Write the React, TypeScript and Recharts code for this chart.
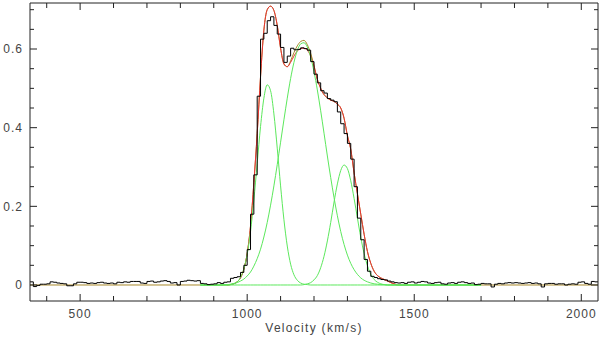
import React from 'react';
import { LineChart, Line, XAxis, YAxis } from 'recharts';

// observed spectrum: one value per 10 km/s channel, left edges 350 ... 2040
const CHANNEL_START = 350;
const CHANNEL_WIDTH = 10;
const flux = [
  0.008, -0.004, -0.001, 0.002, 0.002, 0.003, 0.008, 0.007, 0.005, 0.004,
  0.003, -0.002, -0.002, 0.003, 0.007, 0.007, 0.006, 0.004, 0.005, 0.004,
  0.006, 0.007, 0.005, 0.004, 0.005, 0.003, 0.007, 0.006, 0.008, 0.007,
  0.009, 0.009, 0.009, 0.005, 0.004, 0.009, 0.010, 0.007, 0.008, 0.010,
  0.011, 0.009, 0.005, 0.006, 0.000, 0.009, 0.010, 0.012, 0.011, 0.010,
  0.011, 0.004, 0.003, 0.001, 0.002, 0.003, 0.006, 0.004, 0.007, 0.008,
  0.017, 0.019, 0.021, 0.032, 0.050, 0.090, 0.180, 0.280, 0.480, 0.625,
  0.640, 0.672, 0.682, 0.660, 0.638, 0.604, 0.566, 0.582, 0.602, 0.598,
  0.599, 0.603, 0.601, 0.597, 0.568, 0.536, 0.514, 0.494, 0.488, 0.474,
  0.470, 0.466, 0.440, 0.410, 0.385, 0.360, 0.320, 0.250, 0.170, 0.115,
  0.065, 0.035, 0.022, 0.019, 0.016, 0.014, 0.013, 0.010, 0.008, 0.006,
  0.005, 0.006, 0.004, 0.007, 0.008, 0.005, 0.007, 0.009, 0.008, 0.005,
  0.004, 0.006, 0.007, 0.003, 0.002, 0.005, 0.006, 0.004, 0.007, 0.008,
  0.006, 0.004, 0.005, 0.001, 0.002, 0.004, 0.003, 0.003, -0.005, 0.002,
  0.004, 0.003, 0.005, 0.006, 0.005, 0.006, 0.005, 0.004, 0.005, 0.006,
  0.004, 0.005, 0.003, -0.005, 0.003, 0.004, 0.004, 0.002, 0.003, 0.003,
  0.000, 0.002, 0.003, 0.002, 0.007, 0.008, 0.004, 0.002, 0.009, 0.008,
];

// fitted curves, read at these velocities (km/s)
const fitVelocity = [
  900, 910, 920, 930, 940, 950, 960, 970, 980, 990,
  1000, 1010, 1020, 1030, 1040, 1050, 1060, 1070, 1080, 1090,
  1100, 1110, 1120, 1130, 1140, 1150, 1160, 1170, 1180, 1190,
  1200, 1210, 1220, 1230, 1240, 1250, 1260, 1270, 1280, 1290,
  1300, 1310, 1320, 1330, 1340, 1350, 1360, 1370, 1380, 1390,
  1400, 1410, 1420, 1430, 1440, 1450,
];
const redFit = [
  null, null, null, null, 0.000, 0.001, 0.003, 0.008, 0.018, 0.040,
  0.080, 0.150, 0.260, 0.385, 0.530, 0.648, 0.700, 0.709, 0.698, 0.660,
  0.602, 0.562, 0.555, 0.566, 0.582, 0.595, 0.601, 0.602, 0.597, 0.582,
  0.556, 0.523, 0.500, 0.484, 0.476, 0.470, 0.467, 0.460, 0.450, 0.424,
  0.380, 0.345, 0.285, 0.232, 0.180, 0.129, 0.085, 0.055, 0.035, 0.024,
  0.018, 0.014, 0.010, 0.006, 0.003, 0.000,
];
const oliveFit = [
  0, 0, 0, 0, 0.000, 0.001, 0.003, 0.008, 0.018, 0.040,
  0.080, 0.150, 0.260, 0.385, 0.530, 0.648, 0.700, 0.709, 0.698, 0.660,
  0.602, 0.562, 0.555, 0.570, 0.591, 0.608, 0.619, 0.622, 0.611, 0.589,
  0.558, 0.523, 0.500, 0.484, 0.476, 0.470, 0.467, 0.460, 0.450, 0.424,
  0.380, 0.345, 0.285, 0.232, 0.180, 0.129, 0.085, 0.055, 0.035, 0.024,
  0.018, 0.014, 0.010, 0.006, 0.003, 0.000,
];
const narrowComp = [
  0, 0, 0, 0, 0, 0.001, 0.003, 0.008, 0.019, 0.041,
  0.078, 0.136, 0.216, 0.309, 0.403, 0.475, 0.509, 0.494, 0.435, 0.348,
  0.252, 0.166, 0.099, 0.053, 0.026, 0.012, 0.005, 0.002, 0.001, 0,
  0, 0, 0, 0, 0, 0, 0, 0, 0, 0,
  0, 0, 0, 0, 0, 0, 0, 0, 0, 0,
  0, 0, 0, 0, 0, 0,
];
const broadComp = [
  0, 0, 0, 0.001, 0.001, 0.002, 0.004, 0.006, 0.010, 0.015,
  0.023, 0.033, 0.048, 0.067, 0.091, 0.122, 0.159, 0.203, 0.252, 0.306,
  0.363, 0.420, 0.475, 0.525, 0.566, 0.596, 0.613, 0.616, 0.605, 0.580,
  0.542, 0.496, 0.443, 0.386, 0.328, 0.273, 0.222, 0.176, 0.136, 0.103,
  0.076, 0.055, 0.039, 0.027, 0.018, 0.012, 0.008, 0.005, 0.003, 0.002,
  0.001, 0.001, 0, 0, 0, 0,
];
const redshiftedComp = [
  0, 0, 0, 0, 0, 0, 0, 0, 0, 0,
  0, 0, 0, 0, 0, 0, 0, 0, 0, 0,
  0, 0, 0, 0, 0, 0, 0, 0.001, 0.003, 0.006,
  0.013, 0.024, 0.044, 0.073, 0.112, 0.159, 0.211, 0.257, 0.291, 0.305,
  0.296, 0.265, 0.220, 0.170, 0.121, 0.080, 0.049, 0.027, 0.014, 0.007,
  0.003, 0.001, 0, 0, 0, 0,
];

const X_TICKS = [400, 500, 600, 700, 800, 900, 1000, 1100, 1200, 1300, 1400, 1500, 1600, 1700, 1800, 1900, 2000];
const Y_TICKS = [0, 0.05, 0.1, 0.15, 0.2, 0.25, 0.3, 0.35, 0.4, 0.45, 0.5, 0.55, 0.6, 0.65, 0.7];

// plot box in page pixels
const LEFT = 30;
const RIGHT = 598;
const TOP = 3;
const BOTTOM = 301;
const FRAME = '#222';
const labelFont = {
  fontFamily: '"Liberation Sans", Arial, sans-serif',
  fontSize: 12,
  fill: '#444',
  letterSpacing: 1,
};

const histData = flux.map((y, i) => ({ v: CHANNEL_START + i * CHANNEL_WIDTH, y }));
histData.push({ v: CHANNEL_START + flux.length * CHANNEL_WIDTH, y: flux[flux.length - 1] });

const toSeries = (vals: (number | null)[]) => fitVelocity.map((v, i) => ({ v, y: vals[i] }));
const redData = toSeries(redFit);
const oliveData = [{ v: 350, y: 0 }, ...toSeries(oliveFit), { v: 2050, y: 0 }];
const greenSeries = [narrowComp, broadComp, redshiftedComp].map((c) => [
  { v: 860, y: 0 },
  ...toSeries(c),
  { v: 1700, y: 0 },
]);

const isMajorX = (v: number) => v % 500 === 0;
const isMajorY = (v: number) => Math.abs(v * 5 - Math.round(v * 5)) < 1e-6;

const BottomTick = (props: any) => {
  const { x, payload } = props;
  const major = isMajorX(payload.value);
  return (
    <g>
      <line x1={x} x2={x} y1={BOTTOM} y2={BOTTOM - (major ? 7 : 5)} stroke={FRAME} />
      {major && (
        <text x={x} y={318} textAnchor="middle" {...labelFont}>
          {payload.value}
        </text>
      )}
    </g>
  );
};

const TopTick = (props: any) => {
  const { x, payload } = props;
  const major = isMajorX(payload.value);
  return <line x1={x} x2={x} y1={TOP} y2={TOP + (major ? 7 : 5)} stroke={FRAME} />;
};

const LeftTick = (props: any) => {
  const { y, payload } = props;
  const major = isMajorY(payload.value);
  return (
    <g>
      <line x1={LEFT} x2={LEFT + (major ? 7 : 4)} y1={y} y2={y} stroke={FRAME} />
      {major && (
        <text x={23} y={y + 4.3} textAnchor="end" {...labelFont}>
          {payload.value === 0 ? '0' : payload.value.toFixed(1)}
        </text>
      )}
    </g>
  );
};

const RightTick = (props: any) => {
  const { y, payload } = props;
  const major = isMajorY(payload.value);
  return <line x1={RIGHT} x2={RIGHT - (major ? 7 : 4)} y1={y} y2={y} stroke={FRAME} />;
};

const AxisTitle = () => (
  <text x={(LEFT + RIGHT) / 2} y={332} textAnchor="middle" {...labelFont} letterSpacing={1.3}>
    Velocity (km/s)
  </text>
);

export default function App() {
  return (
    <div style={{ position: 'absolute', left: 0, top: 0, width: 600, height: 337, background: '#fff' }}>
      <LineChart width={600} height={337} margin={{ top: TOP - 1, right: 1, bottom: 0, left: 0 }}>
        <XAxis
          type="number"
          dataKey="v"
          domain={[350, 2050]}
          ticks={X_TICKS}
          interval={0}
          allowDataOverflow
          height={36}
          axisLine={{ stroke: FRAME }}
          tickLine={false}
          tick={BottomTick}
          label={{ content: AxisTitle }}
        />
        <XAxis
          xAxisId="top"
          orientation="top"
          type="number"
          dataKey="v"
          domain={[350, 2050]}
          ticks={X_TICKS}
          interval={0}
          allowDataOverflow
          height={1}
          axisLine={{ stroke: FRAME }}
          tickLine={false}
          tick={TopTick}
        />
        <YAxis
          type="number"
          domain={[-0.0407, 0.717]}
          ticks={Y_TICKS}
          interval={0}
          allowDataOverflow
          width={30}
          axisLine={{ stroke: FRAME }}
          tickLine={false}
          tick={LeftTick}
        />
        <YAxis
          yAxisId="right"
          orientation="right"
          type="number"
          domain={[-0.0407, 0.717]}
          ticks={Y_TICKS}
          interval={0}
          allowDataOverflow
          width={1}
          axisLine={{ stroke: FRAME }}
          tickLine={false}
          tick={RightTick}
        />
        <Line data={oliveData} dataKey="y" type="monotone" stroke="#a8882a" strokeWidth={1}
          dot={false} activeDot={false} isAnimationActive={false} />
        <Line data={redData} dataKey="y" type="monotone" stroke="#e83434" strokeWidth={1}
          dot={false} activeDot={false} isAnimationActive={false} />
        {greenSeries.map((d, i) => (
          <Line key={i} data={d} dataKey="y" type="monotone" stroke="#5ce85c" strokeWidth={1}
            dot={false} activeDot={false} isAnimationActive={false} />
        ))}
        <Line data={histData} dataKey="y" type="stepAfter" stroke="#000" strokeWidth={1}
          dot={false} activeDot={false} isAnimationActive={false} />
      </LineChart>
    </div>
  );
}
